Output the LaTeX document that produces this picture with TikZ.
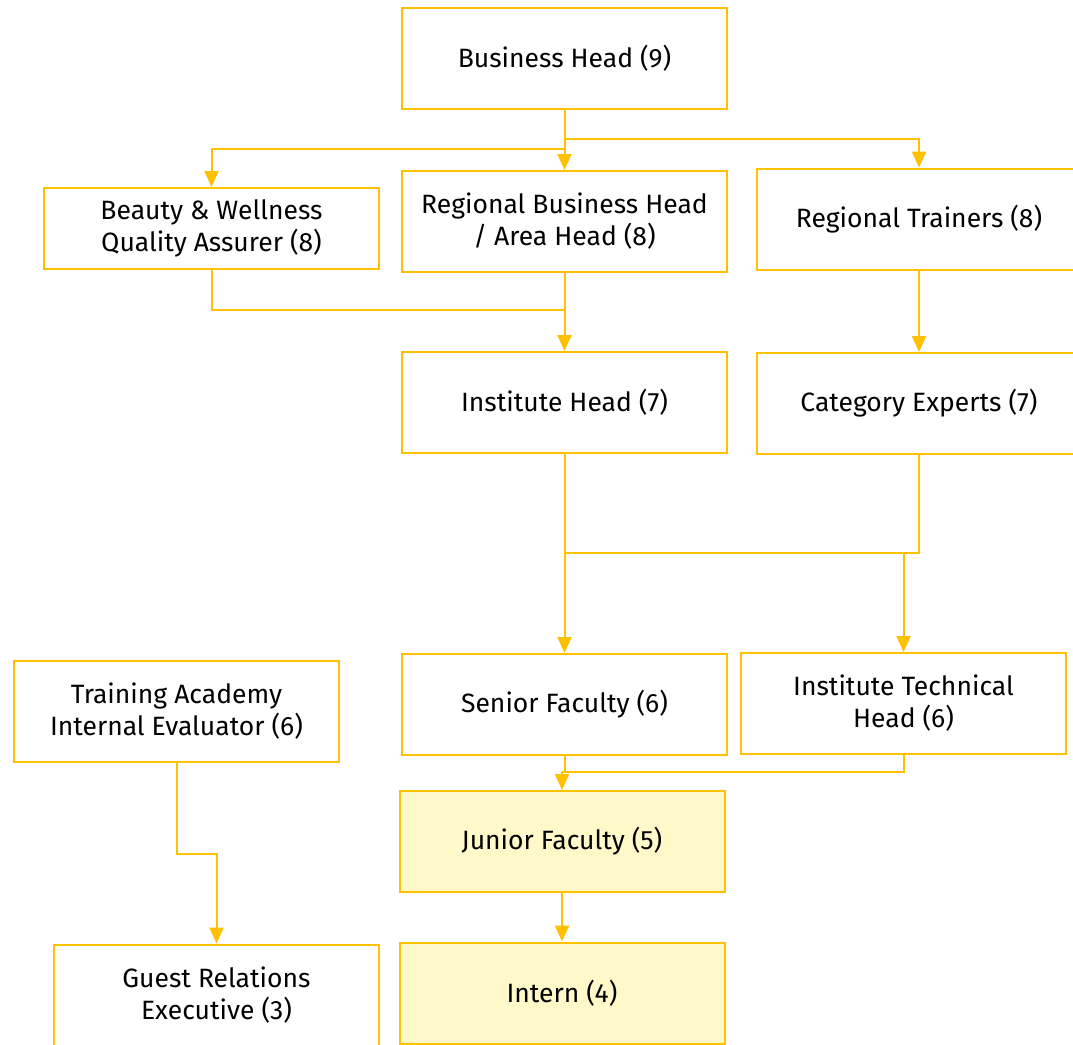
\documentclass[tikz,border=0pt]{standalone}
\usepackage{fontspec}
\setmainfont{Fira Sans}
\usepackage{tikz}
\usetikzlibrary{arrows.meta}

\definecolor{eyyellow}{HTML}{FFC000}
\definecolor{eyfill}{HTML}{FFF9CA}

\begin{document}
\begin{tikzpicture}[x=1pt,y=-1pt,
  role/.style={draw=eyyellow,line width=2pt,fill=white,rectangle,
    minimum width=325pt,minimum height=101pt,align=center,inner sep=0pt,
    font=\fontsize{26.5}{32}\selectfont},
  trainee/.style={role,fill=eyfill},
  line/.style={draw=eyyellow,line width=2pt},
  link/.style={line,-{Triangle[length=16pt,width=14pt]}}]
\useasboundingbox (0,0) rectangle (1073,1044);
\clip (0,0) rectangle (1073,1044);
% boxes
\node [role] (bh) at (564.5,58) {Business Head (9)};
\node [role,minimum width=335pt,minimum height=81pt] (bw) at (211.5,228.5) {Beauty \& Wellness\\Quality Assurer (8)};
\node [role] (rbh) at (564.5,221.5) {Regional Business Head\\/ Area Head (8)};
\node [role] (rt) at (919,219) {Regional Trainers (8)};
\node [role] (ih) at (564.5,402.5) {Institute Head (7)};
\node [role] (ce) at (919,403.5) {Category Experts (7)};
\node [role] (tae) at (176.5,711.5) {Training Academy\\Internal Evaluator (6)};
\node [role] (sf) at (564.5,704.5) {Senior Faculty (6)};
\node [role] (ith) at (903.5,703.5) {Institute Technical\\Head (6)};
\node [trainee] (jf) at (562,841.5) {Junior Faculty (5)};
\node [trainee] (in) at (562,993) {Intern (4)};
\node [role] (gre) at (216.5,995) {Guest Relations\\Executive (3)};
% joints
\coordinate (j1) at (564.5,310);
\coordinate (j2) at (564.5,553);
\coordinate (j3) at (562,772);
% connectors
\draw [link] (bh.south) -- ++(0,29) -| (rt.north);
\draw [link] (bh.south) -- ++(0,39) -| (bw.north);
\draw [link] (bh.south) -- (rbh.north);
\draw [line] (bw.south) |- (j1);
\draw [link] (rbh.south) -- (ih.north);
\draw [link] (rt.south) -- (ce.north);
\draw [link] (ih.south) -- (sf.north);
\draw [line] (ce.south) |- (j2);
\draw [link] (j2 -| ith.north) -- (ith.north);
\draw [line] (sf.south) |- (j3);
\draw [line] (ith.south) |- (j3);
\draw [link] (j3) -- (jf.north);
\draw [link] (jf.south) -- (in.north);
\draw [link] (tae.south) -- ++(0,91) -| (gre.north);
\end{tikzpicture}
\end{document}
